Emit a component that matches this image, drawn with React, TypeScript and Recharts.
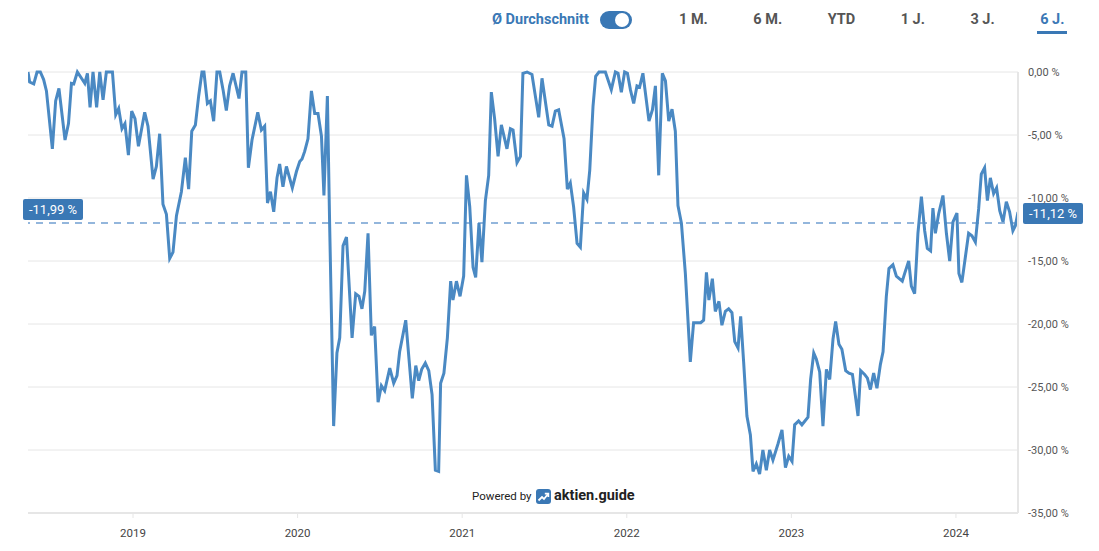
import React from "react";
import { CartesianGrid, Line, LineChart, ReferenceLine, XAxis, YAxis } from "recharts";

// decimal year of every sample
const weeks = [
  2018.362, 2018.372, 2018.397, 2018.417, 2018.437, 2018.457, 2018.474, 2018.51, 2018.53, 2018.55,
  2018.587, 2018.608, 2018.626, 2018.64, 2018.662, 2018.687, 2018.707, 2018.723, 2018.739, 2018.757,
  2018.779, 2018.798, 2018.818, 2018.838, 2018.875, 2018.895, 2018.913, 2018.933, 2018.951, 2018.972,
  2018.992, 2019.012, 2019.033, 2019.071, 2019.091, 2019.122, 2019.142, 2019.162, 2019.182, 2019.203,
  2019.223, 2019.243, 2019.264, 2019.294, 2019.318, 2019.338, 2019.357, 2019.379, 2019.399, 2019.419,
  2019.431, 2019.452, 2019.47, 2019.49, 2019.51, 2019.527, 2019.547, 2019.567, 2019.587, 2019.608,
  2019.644, 2019.662, 2019.685, 2019.701, 2019.723, 2019.758, 2019.78, 2019.8, 2019.817, 2019.835,
  2019.855, 2019.875, 2019.891, 2019.911, 2019.932, 2019.968, 2019.993, 2020.013, 2020.027, 2020.043,
  2020.063, 2020.084, 2020.104, 2020.124, 2020.145, 2020.16, 2020.181, 2020.195, 2020.219, 2020.239,
  2020.256, 2020.276, 2020.297, 2020.331, 2020.353, 2020.373, 2020.391, 2020.408, 2020.428, 2020.448,
  2020.468, 2020.489, 2020.509, 2020.529, 2020.56, 2020.584, 2020.604, 2020.62, 2020.657, 2020.697,
  2020.718, 2020.736, 2020.754, 2020.776, 2020.797, 2020.817, 2020.837, 2020.857, 2020.869, 2020.889,
  2020.91, 2020.93, 2020.944, 2020.965, 2020.987, 2021.009, 2021.026, 2021.046, 2021.066, 2021.082,
  2021.102, 2021.12, 2021.141, 2021.161, 2021.177, 2021.197, 2021.218, 2021.238, 2021.272, 2021.293,
  2021.309, 2021.333, 2021.354, 2021.369, 2021.394, 2021.424, 2021.465, 2021.485, 2021.526, 2021.546,
  2021.566, 2021.586, 2021.619, 2021.639, 2021.657, 2021.677, 2021.698, 2021.718, 2021.738, 2021.758,
  2021.775, 2021.795, 2021.811, 2021.831, 2021.87, 2021.906, 2021.931, 2021.947, 2021.967, 2021.987,
  2022.004, 2022.022, 2022.042, 2022.062, 2022.078, 2022.098, 2022.135, 2022.156, 2022.174, 2022.194,
  2022.216, 2022.235, 2022.255, 2022.275, 2022.295, 2022.311, 2022.332, 2022.356, 2022.386, 2022.406,
  2022.429, 2022.449, 2022.467, 2022.484, 2022.499, 2022.52, 2022.538, 2022.56, 2022.578, 2022.599,
  2022.619, 2022.639, 2022.656, 2022.676, 2022.692, 2022.71, 2022.73, 2022.751,
  2022.767, 2022.787, 2022.807, 2022.827, 2022.848, 2022.868, 2022.888, 2022.919, 2022.943, 2022.964,
  2022.984, 2023.004, 2023.02, 2023.044, 2023.064, 2023.101, 2023.117, 2023.136, 2023.152, 2023.172,
  2023.192, 2023.213, 2023.233, 2023.253, 2023.269, 2023.289, 2023.307, 2023.33, 2023.35, 2023.371,
  2023.391, 2023.405, 2023.421, 2023.445, 2023.462, 2023.48, 2023.5, 2023.52, 2023.541, 2023.557,
  2023.577, 2023.593, 2023.617, 2023.638, 2023.674, 2023.688, 2023.713, 2023.729, 2023.749, 2023.769,
  2023.79, 2023.81, 2023.826, 2023.846, 2023.86, 2023.875, 2023.895, 2023.921, 2023.942, 2023.962,
  2023.982, 2024.006, 2024.018, 2024.036, 2024.057, 2024.077, 2024.097, 2024.118, 2024.138, 2024.154,
  2024.174, 2024.191, 2024.209, 2024.229, 2024.247, 2024.266, 2024.286, 2024.306, 2024.326, 2024.346,
  2024.361, 2024.377,
];

// drawdown from the running high, in %
const drawdown = [
  0, -0.8, -0.95, 0, 0, -0.6, -1.5, -6.1, -2.3, -1.3,
  -5.4, -4.1, -0.9, -0.95, 0, -0.5, -0.9, -0.1, -2.8, 0,
  -2.8, 0, -2.2, 0, 0, -3.4, -2.9, -4.5, -4.1, -6.6,
  -3.1, -3.7, -5.9, -3.2, -4.3, -8.5, -7.5, -4.9, -10.5, -11.3,
  -14.8, -14.3, -11.4, -9.5, -6.8, -9.3, -4.7, -4.2, -1.9, 0,
  0, -2.5, -2.3, -3.9, 0, 0, -1.4, -3.05, -1.1, -0.1,
  -2.1, 0, 0, -7.6, -5.4, -3.2, -4.6, -4.3, -10.4, -9.5,
  -11.1, -8.4, -7.3, -9.1, -7.5, -9.2, -7.9, -7.1, -6.9, -6.3,
  -5.3, -1.5, -3.3, -3.3, -5.1, -9.8, -1.9, -12.3, -28.1, -22.3,
  -21.1, -13.8, -13.1, -21.1, -17.6, -17.8, -18.8, -17.4, -12.8, -20.9,
  -20.2, -26.2, -24.9, -25.3, -23.5, -24.7, -24.1, -22.2, -19.7, -25.9,
  -23.3, -24.5, -23.6, -23.1, -23.7, -25.6, -31.6, -31.7, -24.7, -23.9,
  -21.1, -16.6, -18.1, -16.6, -17.8, -16.2, -8.2, -10.7, -15.5, -16.3,
  -12.0, -15.1, -10.2, -8.2, -1.6, -3.7, -6.7, -4.2, -6.1, -4.5,
  -4.6, -7.2, -6.7, -0.1, 0, -0.2, -3.6, -0.5, -4.2, -4.3,
  -3.1, -3.0, -5.3, -9.3, -8.8, -10.7, -13.6, -13.9, -9.6, -10.1,
  -7.8, -2.7, -0.35, 0, 0, -1.4, 0, -0.1, -1.6, 0,
  -0.1, -1.4, -2.5, -1.1, -1.2, -0.1, -3.9, -3.0, -1.1, -8.2,
  -0.1, -0.7, -3.9, -2.95, -4.7, -10.6, -12.0, -16.0, -23.0, -19.9,
  -19.9, -19.9, -19.7, -15.9, -18.1, -16.4, -19.0, -18.2, -20.1, -19.0,
  -18.8, -19.1, -21.4, -21.9, -19.4, -23.0, -27.3, -28.8,
  -31.7, -31.1, -31.9, -30.0, -31.6, -30.0, -30.8, -29.5, -28.4, -31.4,
  -30.5, -30.9, -28.0, -27.7, -28.0, -27.4, -24.4, -22.3, -22.8, -23.8,
  -28.1, -23.6, -24.4, -21.2, -19.8, -21.6, -22.0, -23.7, -23.9, -24.0,
  -25.9, -27.3, -23.7, -24.0, -24.3, -25.2, -23.9, -25.1, -23.2, -22.2,
  -17.8, -15.6, -15.3, -16.2, -16.6, -16.0, -15.0, -17.0, -17.6, -12.8,
  -9.9, -12.6, -14.0, -14.2, -10.8, -12.8, -11.25, -9.8, -12.8, -15.0,
  -11.9, -11.2, -16.0, -16.7, -14.7, -12.8, -13.0, -13.5, -10.85, -8.1,
  -7.6, -10.2, -8.4, -9.65, -9.2, -11.0, -11.9, -10.3, -11.1, -12.6,
  -12.2, -11.12,
];

const yearTicks = [2019, 2020, 2021, 2022, 2023, 2024];
const percentTicks = [0, -5, -10, -15, -20, -25, -30, -35];
const periods = ["1 M.", "6 M.", "YTD", "1 J.", "3 J.", "6 J."];
const activePeriod = "6 J.";
const average = -11.99;
const latest = drawdown[drawdown.length - 1];

const data = weeks.map((t, i) => ({ t, value: drawdown[i] }));

const BLUE = "#3a78b5";
const LINE = "#4a89c3";
const GRID = "#e6e6e6";
const FONT = "Roboto, 'Noto Sans', sans-serif";

const formatPercent = (v: number) => `${v.toFixed(2).replace(".", ",")} %`;

function Badge({ viewBox, text, side }: any) {
  if (!viewBox) return null;
  const w = 60;
  const h = 21;
  const x = side === "left" ? viewBox.x - 5 : viewBox.x + viewBox.width + 5;
  const y = side === "left" ? viewBox.y - 24 : viewBox.y - 9;
  return (
    <g>
      <rect x={x} y={y} width={w} height={h} rx={2} fill={BLUE} />
      <text x={x + w / 2} y={y + h / 2 + 4.5} textAnchor="middle" fill="#fff" fontSize={13} fontFamily={FONT}>
        {text}
      </text>
    </g>
  );
}

export default function App() {
  return (
    <div style={{ position: "relative", width: 1099, height: 551, background: "#fff", fontFamily: FONT }}>
      <style>{"body{margin:0}"}</style>

      <LineChart width={1099} height={551} data={data} margin={{ top: 72, right: 0, bottom: 8, left: 28 }}>
        <CartesianGrid vertical={false} stroke={GRID} />
        <XAxis
          dataKey="t"
          type="number"
          domain={[weeks[0], weeks[weeks.length - 1]]}
          ticks={yearTicks}
          tickFormatter={(v: number) => String(v)}
          height={30}
          axisLine={{ stroke: GRID, strokeWidth: 2 }}
          tickLine={{ stroke: GRID }}
          tickSize={5}
          tickMargin={11}
          tick={{ fill: "#444", fontSize: 11.5 }}
          allowDataOverflow
        />
        <YAxis
          orientation="right"
          type="number"
          domain={[-35, 0]}
          ticks={percentTicks}
          tickFormatter={formatPercent}
          width={81}
          axisLine={{ stroke: GRID, strokeWidth: 2 }}
          tickLine={false}
          tick={{ fill: "#555", fontSize: 11, textAnchor: "start", dx: 2 }}
        />
        <ReferenceLine
          y={average}
          stroke="#93b6dc"
          strokeWidth={2}
          strokeDasharray="7 6"
          label={<Badge side="left" text={formatPercent(average)} />}
        />
        <Line
          type="linear"
          dataKey="value"
          stroke={LINE}
          strokeWidth={3}
          dot={false}
          activeDot={false}
          isAnimationActive={false}
        />
        <ReferenceLine
          y={latest}
          stroke="none"
          label={<Badge side="right" text={formatPercent(latest)} />}
        />
      </LineChart>

      <div style={{ position: "absolute", left: 492, top: 11, lineHeight: "18px", fontSize: 14.5, fontWeight: 700, color: BLUE }}>
        Ø Durchschnitt
      </div>
      <div style={{ position: "absolute", left: 600, top: 11, width: 32, height: 18, borderRadius: 9, background: BLUE }}>
        <div style={{ position: "absolute", left: 15, top: 2, width: 14, height: 14, borderRadius: 7, background: "#fff" }} />
      </div>

      <div style={{ position: "absolute", left: 676, top: 11, display: "flex", gap: 39.5 }}>
        {periods.map((p) => (
          <div
            key={p}
            style={{
              padding: "0 3px 2px",
              lineHeight: "18px",
              fontSize: 14.5,
              fontWeight: 700,
              color: p === activePeriod ? BLUE : "#555",
              borderBottom: `3px solid ${p === activePeriod ? BLUE : "transparent"}`,
            }}
          >
            {p}
          </div>
        ))}
      </div>

      <div style={{ position: "absolute", left: 472, top: 488, fontSize: 11.5, lineHeight: "16px", color: "#222" }}>Powered by</div>
      <svg style={{ position: "absolute", left: 536, top: 489 }} width={15} height={15} viewBox="0 0 15 15">
        <rect width={15} height={15} rx={3} fill={BLUE} />
        <polyline points="2.5,11.5 6,8 8,10 12,5" fill="none" stroke="#fff" strokeWidth={1.8} />
        <polyline points="8.8,4.6 12.3,4.6 12.3,8" fill="none" stroke="#fff" strokeWidth={1.8} />
      </svg>
      <div style={{ position: "absolute", left: 554, top: 487, fontSize: 14.5, lineHeight: "18px", fontWeight: 700, color: "#222" }}>
        aktien.guide
      </div>
    </div>
  );
}
